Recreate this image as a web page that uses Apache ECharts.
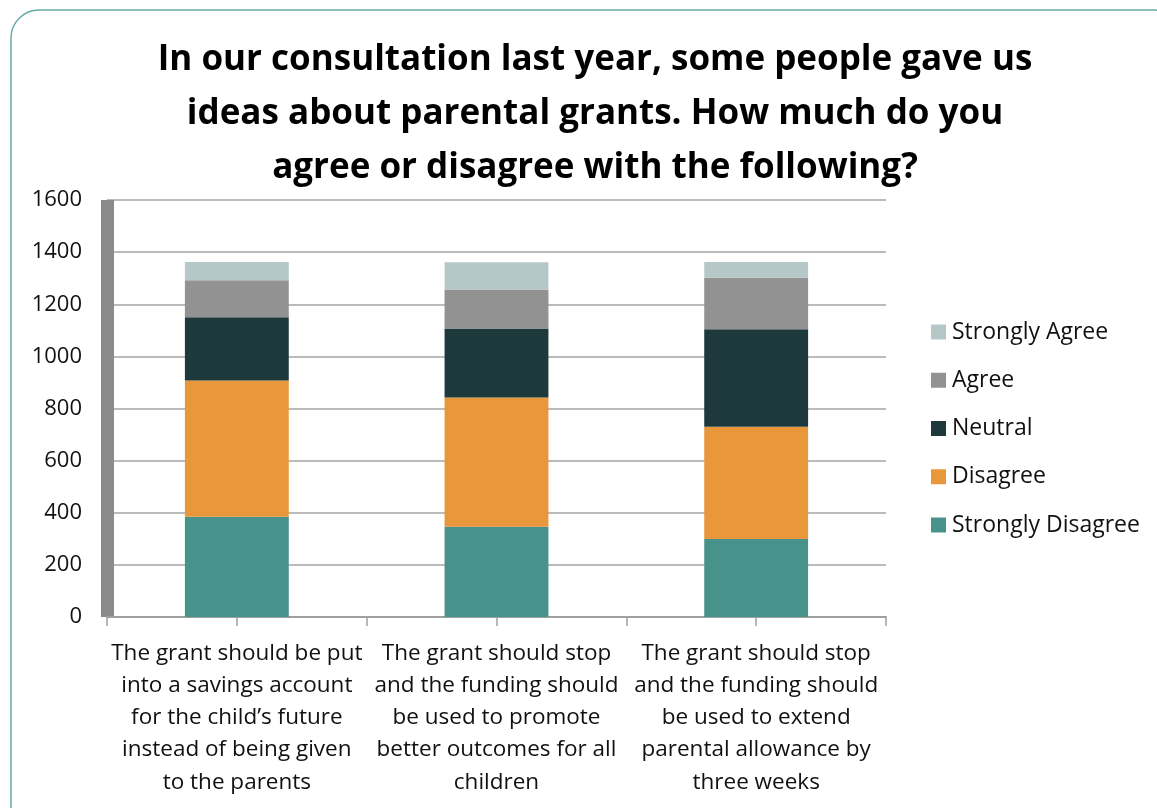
<!DOCTYPE html>
<html>
<head>
<meta charset="utf-8">
<script src="https://cdn.jsdelivr.net/npm/echarts@6/dist/echarts.min.js"></script>
<style>
  html, body { margin: 0; padding: 0; background: #ffffff; }
  #chart { width: 1157px; height: 808px; }
</style>
</head>
<body>
<div id="chart"></div>
<script>
// Survey responses per statement, stacked from Strongly Disagree upward
const categories = [
  'The grant should be put\ninto a savings account\nfor the child\u2019s future\ninstead of being given\nto the parents',
  'The grant should stop\nand the funding should\nbe used to promote\nbetter outcomes for all\nchildren',
  'The grant should stop\nand the funding should\nbe used to extend\nparental allowance by\nthree weeks'
];
const stronglyDisagree = [385, 346, 299];
const disagree = [522, 496, 431];
const neutral = [243, 265, 374];
const agree = [142, 150, 198];
const stronglyAgree = [70, 104, 60];

const seriesNames = ['Strongly Disagree', 'Disagree', 'Neutral', 'Agree', 'Strongly Agree'];
const seriesValues = [stronglyDisagree, disagree, neutral, agree, stronglyAgree];
const seriesColors = ['#48928c', '#e8983a', '#1d393c', '#929292', '#b5c8c7'];
const yTicks = { min: 0, max: 1600, interval: 200 };

const titleText = 'In our consultation last year, some people gave us\nideas about parental grants. How much do you\nagree or disagree with the following?';
const FONT = '"Open Sans", "Noto Sans", sans-serif';

const chart = echarts.init(document.getElementById('chart'), null, { renderer: 'canvas' });

chart.setOption({
  animation: false,
  backgroundColor: '#ffffff',
  graphic: [{
    type: 'rect',
    shape: { x: 11, y: 10, width: 1170, height: 830, r: 28 },
    style: { fill: 'none', stroke: '#66aaa5', lineWidth: 1.5 },
    z: 0
  }],
  title: {
    text: titleText,
    left: 590,
    top: 28,
    textAlign: 'center',
    textStyle: {
      fontFamily: FONT,
      fontSize: 35,
      fontWeight: 'bold',
      color: '#000000',
      lineHeight: 54
    }
  },
  legend: {
    orient: 'vertical',
    left: 931,
    top: 320,
    padding: 0,
    itemWidth: 15,
    itemHeight: 15,
    itemGap: 24.25,
    icon: 'rect',
    data: ['Strongly Agree', 'Agree', 'Neutral', 'Disagree', 'Strongly Disagree'],
    textStyle: { fontFamily: FONT, fontSize: 23, color: '#111111', lineHeight: 24, padding: [0, 0, 0, 1] }
  },
  grid: { left: 107, right: 271, top: 200, bottom: 191, containLabel: false },
  xAxis: [{
    type: 'category',
    position: 'bottom',
    data: categories,
    axisLine: { show: true, lineStyle: { color: '#a0a0a0', width: 2 } },
    axisTick: { show: true, alignWithLabel: false, length: 9, lineStyle: { color: '#a0a0a0', width: 1.5 } },
    axisLabel: {
      interval: 0,
      margin: 20,
      fontFamily: FONT,
      fontSize: 22.5,
      lineHeight: 32.25,
      color: '#111111',
      align: 'center'
    },
    splitLine: { show: false }
  }, {
    type: 'category',
    position: 'bottom',
    data: categories,
    axisLine: { show: false },
    axisTick: { show: true, alignWithLabel: true, length: 9, lineStyle: { color: '#a0a0a0', width: 1.5 } },
    axisLabel: { show: false },
    splitLine: { show: false }
  }],
  yAxis: {
    type: 'value',
    min: yTicks.min,
    max: yTicks.max,
    interval: yTicks.interval,
    axisLine: { show: true, lineStyle: { color: '#8a8a8a', width: 13, cap: 'butt' } },
    axisTick: { show: false },
    axisLabel: {
      margin: 25,
      fontFamily: FONT,
      fontSize: 22,
      color: '#111111',
      formatter: (v) => String(v)
    },
    splitLine: { show: true, lineStyle: { color: '#a5a5a5', width: 1.5 } }
  },
  series: seriesNames.map((name, i) => ({
    name: name,
    type: 'bar',
    stack: 'total',
    xAxisIndex: 0,
    barWidth: '40%',
    data: seriesValues[i],
    itemStyle: { color: seriesColors[i] },
    emphasis: { disabled: true }
  }))
});
</script>
</body>
</html>
